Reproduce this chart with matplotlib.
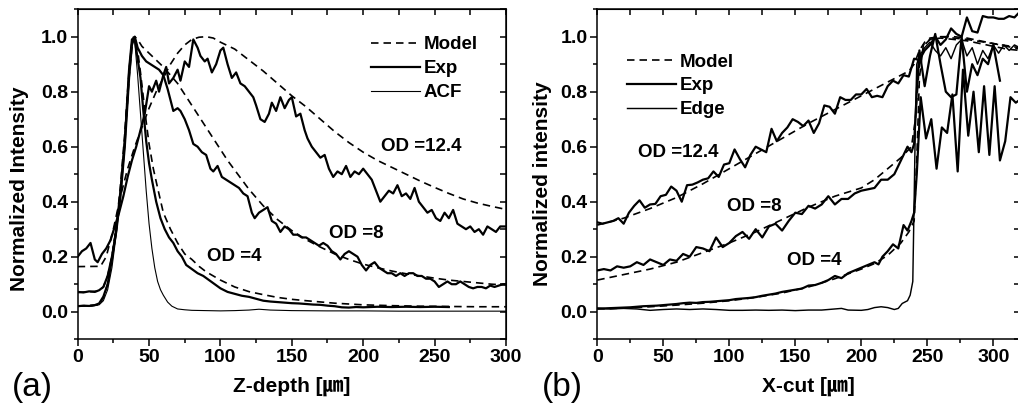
import matplotlib
matplotlib.use("Agg")
import matplotlib.pyplot as plt
import numpy as np
from matplotlib.ticker import MultipleLocator, FormatStrFormatter

plt.rcParams['font.family'] = ['Liberation Sans', 'Noto Sans CJK KR', 'DejaVu Sans']
plt.rcParams['font.weight'] = 'bold'

# ---------------- (a) Z-depth profiles ----------------
z12_exp = [0, 3, 6, 9, 12, 14, 17, 20, 23, 26, 29, 32, 35, 38, 41, 44, 47, 50, 52, 55,
           57, 60, 62, 64, 67, 70, 72, 75, 78, 81, 84, 86, 89, 91, 94, 97, 100, 102, 105, 108,
           111, 114, 117, 120, 123, 125, 128, 131, 134, 136, 139, 142, 145, 148, 150, 153, 156, 159, 161, 164,
           167, 170, 173, 176, 179, 182, 185, 188, 191, 194, 197, 200, 203, 206, 209, 212, 215, 218, 221, 224,
           227, 230, 233, 236, 239, 242, 245, 248, 251, 254, 257, 260, 263, 266, 269, 272, 275, 278, 281, 284,
           287, 290, 293, 296, 300]
i12_exp = [0.20, 0.22, 0.23, 0.25, 0.19, 0.18, 0.21, 0.23, 0.26, 0.31, 0.36, 0.42, 0.49, 0.55, 0.60, 0.66, 0.72, 0.82, 0.80, 0.84,
           0.80, 0.86, 0.89, 0.83, 0.85, 0.88, 0.84, 0.91, 0.89, 0.99, 0.96, 0.93, 0.91, 0.92, 0.87, 0.90, 0.95, 0.96, 0.90, 0.85,
           0.87, 0.83, 0.82, 0.80, 0.78, 0.75, 0.70, 0.69, 0.72, 0.76, 0.73, 0.78, 0.74, 0.77, 0.78, 0.71, 0.72, 0.66, 0.63, 0.60,
           0.58, 0.56, 0.57, 0.52, 0.49, 0.51, 0.50, 0.53, 0.49, 0.51, 0.50, 0.52, 0.50, 0.48, 0.44, 0.40, 0.42, 0.44, 0.43, 0.46,
           0.42, 0.43, 0.41, 0.45, 0.40, 0.38, 0.36, 0.37, 0.34, 0.33, 0.36, 0.34, 0.37, 0.32, 0.31, 0.30, 0.31, 0.29, 0.30, 0.28,
           0.31, 0.30, 0.29, 0.31, 0.31]

z8_exp = [0, 4, 8, 12, 15, 18, 21, 24, 27, 30, 33, 36, 38, 40, 42, 45, 48, 51, 54, 57,
          60, 63, 65, 67, 70, 72, 75, 78, 81, 84, 87, 90, 93, 95, 98, 101, 104, 107, 110, 113,
          116, 119, 122, 124, 127, 130, 133, 136, 139, 142, 145, 148, 151, 154, 157, 160, 163, 166, 169, 172,
          175, 178, 181, 184, 187, 190, 193, 196, 199, 202, 205, 208, 211, 214, 217, 220, 223, 226, 229, 232,
          235, 238, 241, 244, 247, 250, 253, 256, 259, 262, 265, 268, 271, 274, 277, 280, 283, 286, 289, 292,
          295, 298, 300]
i8_exp = [0.072, 0.070, 0.074, 0.072, 0.078, 0.09, 0.13, 0.20, 0.29, 0.42, 0.60, 0.85, 0.97, 1.0, 0.96, 0.93, 0.91, 0.90, 0.89, 0.88,
          0.86, 0.81, 0.77, 0.73, 0.74, 0.73, 0.70, 0.66, 0.61, 0.60, 0.58, 0.57, 0.52, 0.51, 0.53, 0.49, 0.48, 0.47, 0.46, 0.45,
          0.43, 0.42, 0.36, 0.34, 0.36, 0.37, 0.38, 0.33, 0.32, 0.29, 0.31, 0.30, 0.28, 0.28, 0.27, 0.27, 0.26, 0.25, 0.24, 0.25,
          0.24, 0.22, 0.21, 0.19, 0.21, 0.22, 0.21, 0.20, 0.17, 0.15, 0.17, 0.18, 0.16, 0.15, 0.14, 0.14, 0.13, 0.14, 0.13, 0.14,
          0.14, 0.13, 0.13, 0.12, 0.12, 0.11, 0.09, 0.10, 0.11, 0.10, 0.10, 0.11, 0.10, 0.09, 0.085, 0.09, 0.09, 0.085, 0.095, 0.09,
          0.095, 0.10, 0.10]

z4_exp = [0, 4, 8, 12, 15, 18, 21, 24, 27, 30, 33, 36, 38, 40, 42, 44, 46, 48, 50, 52,
          55, 58, 61, 64, 67, 70, 73, 76, 80, 84, 88, 92, 96, 100, 105, 110, 115, 120, 125, 130,
          135, 140, 145, 150, 155, 160, 165, 170, 175, 180, 185, 190, 195, 200, 210, 220, 230, 240, 250, 260]
i4_exp = [0.02, 0.022, 0.021, 0.024, 0.03, 0.055, 0.10, 0.19, 0.30, 0.44, 0.62, 0.88, 0.99, 0.99, 0.92, 0.85, 0.73, 0.62, 0.54, 0.48,
          0.40, 0.34, 0.30, 0.27, 0.25, 0.22, 0.20, 0.17, 0.155, 0.14, 0.13, 0.115, 0.10, 0.085, 0.072, 0.065, 0.058, 0.054, 0.047, 0.040,
          0.037, 0.035, 0.033, 0.031, 0.030, 0.028, 0.026, 0.025, 0.022, 0.020, 0.016, 0.015, 0.017, 0.016, 0.018, 0.017, 0.018, 0.017, 0.018, 0.017]

z12_mod = [0, 16, 20, 25, 30, 35, 40, 45, 50, 55, 60, 65, 70, 75, 80, 85, 90, 95, 100, 110,
           120, 130, 140, 150, 160, 170, 180, 190, 200, 210, 220, 230, 240, 250, 260, 270, 280, 290, 300]
i12_mod = [0.164, 0.165, 0.20, 0.30, 0.42, 0.52, 0.60, 0.67, 0.74, 0.80, 0.85, 0.90, 0.94, 0.97, 0.99, 0.998, 1.0, 0.995, 0.98, 0.955,
           0.915, 0.875, 0.83, 0.785, 0.745, 0.70, 0.655, 0.615, 0.58, 0.55, 0.525, 0.50, 0.475, 0.452, 0.43, 0.41, 0.395, 0.383, 0.372]

z8_mod = [0, 15, 18, 21, 24, 27, 30, 33, 36, 38, 40, 42, 45, 50, 55, 60, 65, 70, 75, 80,
          85, 90, 95, 100, 105, 110, 115, 120, 125, 130, 140, 150, 160, 170, 180, 190, 200, 210, 220, 230,
          240, 250, 260, 270, 280, 290, 300]
i8_mod = [0.07, 0.075, 0.09, 0.13, 0.20, 0.30, 0.43, 0.62, 0.85, 0.96, 1.0, 0.99, 0.965, 0.94, 0.915, 0.89, 0.86, 0.83, 0.79, 0.75,
          0.71, 0.67, 0.63, 0.59, 0.55, 0.515, 0.48, 0.445, 0.415, 0.385, 0.335, 0.295, 0.262, 0.235, 0.21, 0.19, 0.173, 0.16, 0.148, 0.138,
          0.13, 0.122, 0.115, 0.11, 0.105, 0.10, 0.097]

z4_mod = [0, 15, 18, 21, 24, 27, 30, 33, 36, 38, 40, 42, 44, 46, 48, 50, 53, 56, 60, 65,
          70, 75, 80, 85, 90, 100, 110, 120, 130, 140, 150, 160, 180, 200, 220, 240, 260, 280, 300]
i4_mod = [0.02, 0.025, 0.05, 0.10, 0.19, 0.31, 0.46, 0.65, 0.88, 0.98, 1.0, 0.95, 0.87, 0.78, 0.69, 0.61, 0.52, 0.45, 0.36, 0.30,
          0.25, 0.21, 0.19, 0.165, 0.145, 0.115, 0.09, 0.073, 0.062, 0.052, 0.045, 0.040, 0.031, 0.025, 0.022, 0.020, 0.019, 0.018, 0.018]

z_acf = [0, 10, 15, 18, 21, 24, 27, 30, 33, 36, 38, 39, 40, 42, 44, 46, 48, 50, 52, 54,
         56, 58, 60, 63, 66, 70, 75, 80, 90, 100, 110, 120, 127, 135, 150, 175, 200, 225, 250, 275, 300]
i_acf = [0.02, 0.02, 0.025, 0.04, 0.08, 0.16, 0.28, 0.44, 0.64, 0.88, 0.99, 1.0, 0.98, 0.86, 0.72, 0.58, 0.44, 0.32, 0.23, 0.16,
         0.11, 0.08, 0.06, 0.035, 0.02, 0.01, 0.007, 0.005, 0.004, 0.003, 0.004, 0.006, 0.009, 0.006, 0.004, 0.003, 0.003, 0.002, 0.002, 0.002, 0.002]

# ---------------- (b) X-cut profiles ----------------
x12_exp = list(range(0, 321, 4))
j12_exp = [0.325, 0.32, 0.325, 0.33, 0.34, 0.32, 0.36, 0.385, 0.405, 0.378, 0.39, 0.392, 0.42, 0.425, 0.455, 0.44, 0.40, 0.46, 0.462, 0.47,
           0.48, 0.485, 0.51, 0.49, 0.535, 0.54, 0.59, 0.555, 0.525, 0.57, 0.60, 0.59, 0.58, 0.665, 0.62, 0.65, 0.67, 0.70, 0.69, 0.675,
           0.695, 0.65, 0.685, 0.75, 0.745, 0.72, 0.78, 0.77, 0.77, 0.79, 0.79, 0.81, 0.78, 0.785, 0.78, 0.82, 0.84, 0.83, 0.86, 0.855,
           0.92, 0.915, 0.95, 0.97, 1.0, 0.97, 0.99, 1.03, 1.01, 1.0, 1.07, 1.02, 1.015, 1.075, 1.07, 1.07, 1.065, 1.065, 1.075, 1.07,
           1.09]

x8_exp = [0, 5, 10, 15, 20, 25, 30, 35, 40, 45, 50, 55, 60, 65, 70, 75, 80, 85, 90, 95,
          100, 105, 110, 115, 120, 125, 130, 135, 140, 145, 150, 155, 160, 165, 170, 175, 180, 185, 190, 195,
          200, 205, 210, 215, 220, 225, 230, 235, 238, 240, 242, 244, 248, 252, 256, 260, 264, 268, 272, 276,
          280, 284, 288, 292, 296, 300, 305]
j8_exp = [0.15, 0.155, 0.15, 0.165, 0.16, 0.165, 0.18, 0.17, 0.19, 0.18, 0.17, 0.19, 0.185, 0.21, 0.20, 0.235, 0.23, 0.22, 0.27, 0.235,
          0.25, 0.275, 0.29, 0.265, 0.30, 0.27, 0.31, 0.32, 0.295, 0.33, 0.36, 0.355, 0.385, 0.375, 0.39, 0.42, 0.39, 0.41, 0.41, 0.43,
          0.44, 0.445, 0.45, 0.48, 0.48, 0.50, 0.55, 0.60, 0.58, 0.61, 0.80, 0.95, 0.82, 0.93, 1.01, 0.90, 0.80, 0.78, 0.79, 1.0,
          0.80, 0.90, 0.86, 0.92, 0.90, 0.97, 0.84]

x4_exp = [0, 5, 10, 15, 20, 25, 30, 35, 40, 45, 50, 55, 60, 65, 70, 75, 80, 85, 90, 95,
          100, 105, 110, 115, 120, 125, 130, 135, 140, 145, 150, 155, 160, 165, 170, 175, 180, 185, 190, 195,
          200, 205, 210, 213, 216, 220, 224, 228, 232, 235, 238, 240, 242, 245, 249, 253, 257, 261, 265, 269,
          273, 277, 281, 285, 289, 293, 297, 301, 305, 309, 313, 317, 320]
j4_exp = [0.012, 0.012, 0.013, 0.014, 0.015, 0.016, 0.018, 0.020, 0.021, 0.022, 0.024, 0.026, 0.028, 0.031, 0.033, 0.032, 0.035, 0.036, 0.038, 0.040,
          0.042, 0.046, 0.048, 0.050, 0.053, 0.058, 0.062, 0.066, 0.072, 0.076, 0.080, 0.084, 0.095, 0.097, 0.105, 0.115, 0.13, 0.122, 0.14, 0.15,
          0.16, 0.17, 0.18, 0.172, 0.20, 0.22, 0.245, 0.23, 0.315, 0.295, 0.33, 0.36, 0.50, 0.78, 0.63, 0.70, 0.52, 0.67, 0.65, 0.79,
          0.51, 0.88, 0.64, 0.80, 0.58, 0.82, 0.57, 0.82, 0.55, 0.62, 0.78, 0.76, 0.77]

x_edge = [0, 10, 20, 30, 40, 50, 60, 70, 80, 90, 100, 110, 120, 130, 140, 150, 160, 170, 180, 185,
          190, 200, 205, 210, 215, 220, 225, 228, 231, 235, 237, 239, 240, 241, 242, 244, 248, 252, 256, 260,
          264, 268, 272, 276, 280, 284, 288, 292, 296, 300, 304, 308, 312, 316, 320]
j_edge = [0.012, 0.010, 0.012, 0.010, 0.005, 0.008, 0.010, 0.008, 0.010, 0.008, 0.005, 0.005, 0.006, 0.005, 0.006, 0.004, 0.006, 0.006, 0.010, 0.012,
          0.006, 0.005, 0.008, 0.015, 0.018, 0.015, 0.008, 0.012, 0.030, 0.040, 0.060, 0.11, 0.40, 0.70, 0.90, 0.93, 0.96, 0.98, 0.95, 0.93,
          0.96, 0.92, 0.97, 0.99, 0.93, 0.96, 0.90, 0.95, 0.92, 0.97, 0.94, 0.97, 0.95, 0.97, 0.96]

x12_mod = [0, 20, 40, 60, 80, 100, 120, 140, 160, 180, 200, 220, 236, 240, 244, 248, 252, 260, 270, 280,
           290, 300, 310, 320]
j12_mod = [0.315, 0.34, 0.375, 0.415, 0.465, 0.52, 0.575, 0.63, 0.685, 0.735, 0.785, 0.835, 0.875, 0.90, 0.95, 0.98, 0.995, 1.0, 1.0, 0.995,
           0.985, 0.975, 0.965, 0.955]

x8_mod = [0, 20, 40, 60, 80, 100, 120, 140, 160, 180, 200, 210, 220, 230, 238, 241, 244, 248, 252, 260,
          270, 280, 290, 300, 310, 320]
j8_mod = [0.115, 0.135, 0.155, 0.18, 0.215, 0.25, 0.29, 0.335, 0.38, 0.42, 0.45, 0.48, 0.52, 0.56, 0.60, 0.70, 0.90, 0.97, 0.99, 0.995,
          0.99, 0.985, 0.975, 0.965, 0.955, 0.95]

x4_mod = [0, 20, 40, 60, 80, 100, 120, 140, 160, 180, 200, 210, 220, 230, 236, 240, 242, 244, 247, 252,
          260, 280, 300, 320]
j4_mod = [0.010, 0.013, 0.018, 0.024, 0.031, 0.040, 0.052, 0.068, 0.090, 0.12, 0.155, 0.175, 0.205, 0.25, 0.29, 0.33, 0.55, 0.85, 0.97, 0.99,
          1.0, 0.99, 0.975, 0.96]

DASH = (4.5, 3)
LW_EXP, LW_MOD, LW_REF = 1.6, 1.2, 0.8
LABEL_FONT = {'fontsize': 15, 'fontweight': 'bold'}
NOTE_FONT = {'fontsize': 13.5, 'fontweight': 'bold', 'ha': 'center', 'va': 'center'}
LEG_KW = dict(loc='upper left', frameon=False, borderpad=0, borderaxespad=0,
              handlelength=2.6, handletextpad=0.2, labelspacing=0.36,
              prop={'size': 13.5, 'weight': 'bold'})


def style_axes(ax, xmax, xstep):
    ax.set_ylim(-0.1, 1.1)
    ax.set_xlim(0, xmax)
    ax.xaxis.set_major_locator(MultipleLocator(50))
    ax.xaxis.set_minor_locator(MultipleLocator(25))
    ax.yaxis.set_major_locator(MultipleLocator(0.2))
    ax.yaxis.set_minor_locator(MultipleLocator(0.1))
    ax.yaxis.set_major_formatter(FormatStrFormatter('%.1f'))
    ax.tick_params(which='major', direction='out', length=5, width=1.1, labelsize=14, pad=2)
    ax.tick_params(which='minor', direction='out', length=3, width=1.1)
    for sp in ax.spines.values():
        sp.set_linewidth(1.1)
    for lab in ax.get_xticklabels() + ax.get_yticklabels():
        lab.set_fontweight('bold')
    # inward ticks on the opposite sides
    top = ax.secondary_xaxis('top')
    top.set_xticks(np.arange(0, xmax + 1, xstep))
    top.tick_params(direction='in', length=4, width=1.1, labeltop=False)
    right = ax.secondary_yaxis('right')
    right.set_yticks(np.arange(-0.1, 1.11, 0.1))
    right.tick_params(direction='in', length=4, width=1.1, labelright=False)


fig = plt.figure(figsize=(10.18, 4.08), dpi=100)

# panel (a)
ax1 = fig.add_axes([0.0763, 0.1686, 0.4207, 0.8089])
ax1.plot(z12_mod, i12_mod, 'k', lw=LW_MOD, dashes=DASH, label='Model')
ax1.plot(z8_mod, i8_mod, 'k', lw=LW_MOD, dashes=DASH)
ax1.plot(z4_mod, i4_mod, 'k', lw=LW_MOD, dashes=DASH)
ax1.plot(z12_exp, i12_exp, 'k', lw=LW_EXP, label='Exp')
ax1.plot(z8_exp, i8_exp, 'k', lw=LW_EXP)
ax1.plot(z4_exp, i4_exp, 'k', lw=LW_EXP)
ax1.plot(z_acf, i_acf, 'k', lw=LW_REF, label='ACF')
style_axes(ax1, 300, 25)
ax1.set_xlabel('Z-depth [㎛]', labelpad=8, **LABEL_FONT)
ax1.set_ylabel('Normalized Intensity', **LABEL_FONT)
ax1.yaxis.set_label_coords(-0.114, 0.455)
ax1.legend(bbox_to_anchor=(0.685, 0.918), **LEG_KW)
ax1.text(241, 0.60, 'OD =12.4', **NOTE_FONT)
ax1.text(195, 0.286, 'OD =8', **NOTE_FONT)
ax1.text(110, 0.20, 'OD =4', **NOTE_FONT)
fig.text(0.012, 0.03, '(a)', fontsize=24, fontweight='normal')

# panel (b)
ax2 = fig.add_axes([0.5867, 0.1686, 0.415, 0.8089])
ax2.plot(x12_mod, j12_mod, 'k', lw=LW_MOD, dashes=DASH, label='Model')
ax2.plot(x8_mod, j8_mod, 'k', lw=LW_MOD, dashes=DASH)
ax2.plot(x4_mod, j4_mod, 'k', lw=LW_MOD, dashes=DASH)
ax2.plot(x12_exp, j12_exp, 'k', lw=LW_EXP, label='Exp')
ax2.plot(x8_exp, j8_exp, 'k', lw=LW_EXP)
ax2.plot(x4_exp, j4_exp, 'k', lw=LW_EXP)
ax2.plot(x_edge, j_edge, 'k', lw=LW_REF * 1.3, label='Edge')
style_axes(ax2, 320, 25)
ax2.set_xlabel('X-cut [㎛]', labelpad=8, **LABEL_FONT)
ax2.set_ylabel('Normalized intensity', **LABEL_FONT)
ax2.yaxis.set_label_coords(-0.107, 0.47)
ax2.legend(bbox_to_anchor=(0.07, 0.866), **LEG_KW)
ax2.text(61.5, 0.578, 'OD =12.4', **NOTE_FONT)
ax2.text(119, 0.381, 'OD =8', **NOTE_FONT)
ax2.text(164.5, 0.188, 'OD =4', **NOTE_FONT)
fig.text(0.532, 0.03, '(b)', fontsize=24, fontweight='normal')

fig.savefig('out.png', dpi=100)
